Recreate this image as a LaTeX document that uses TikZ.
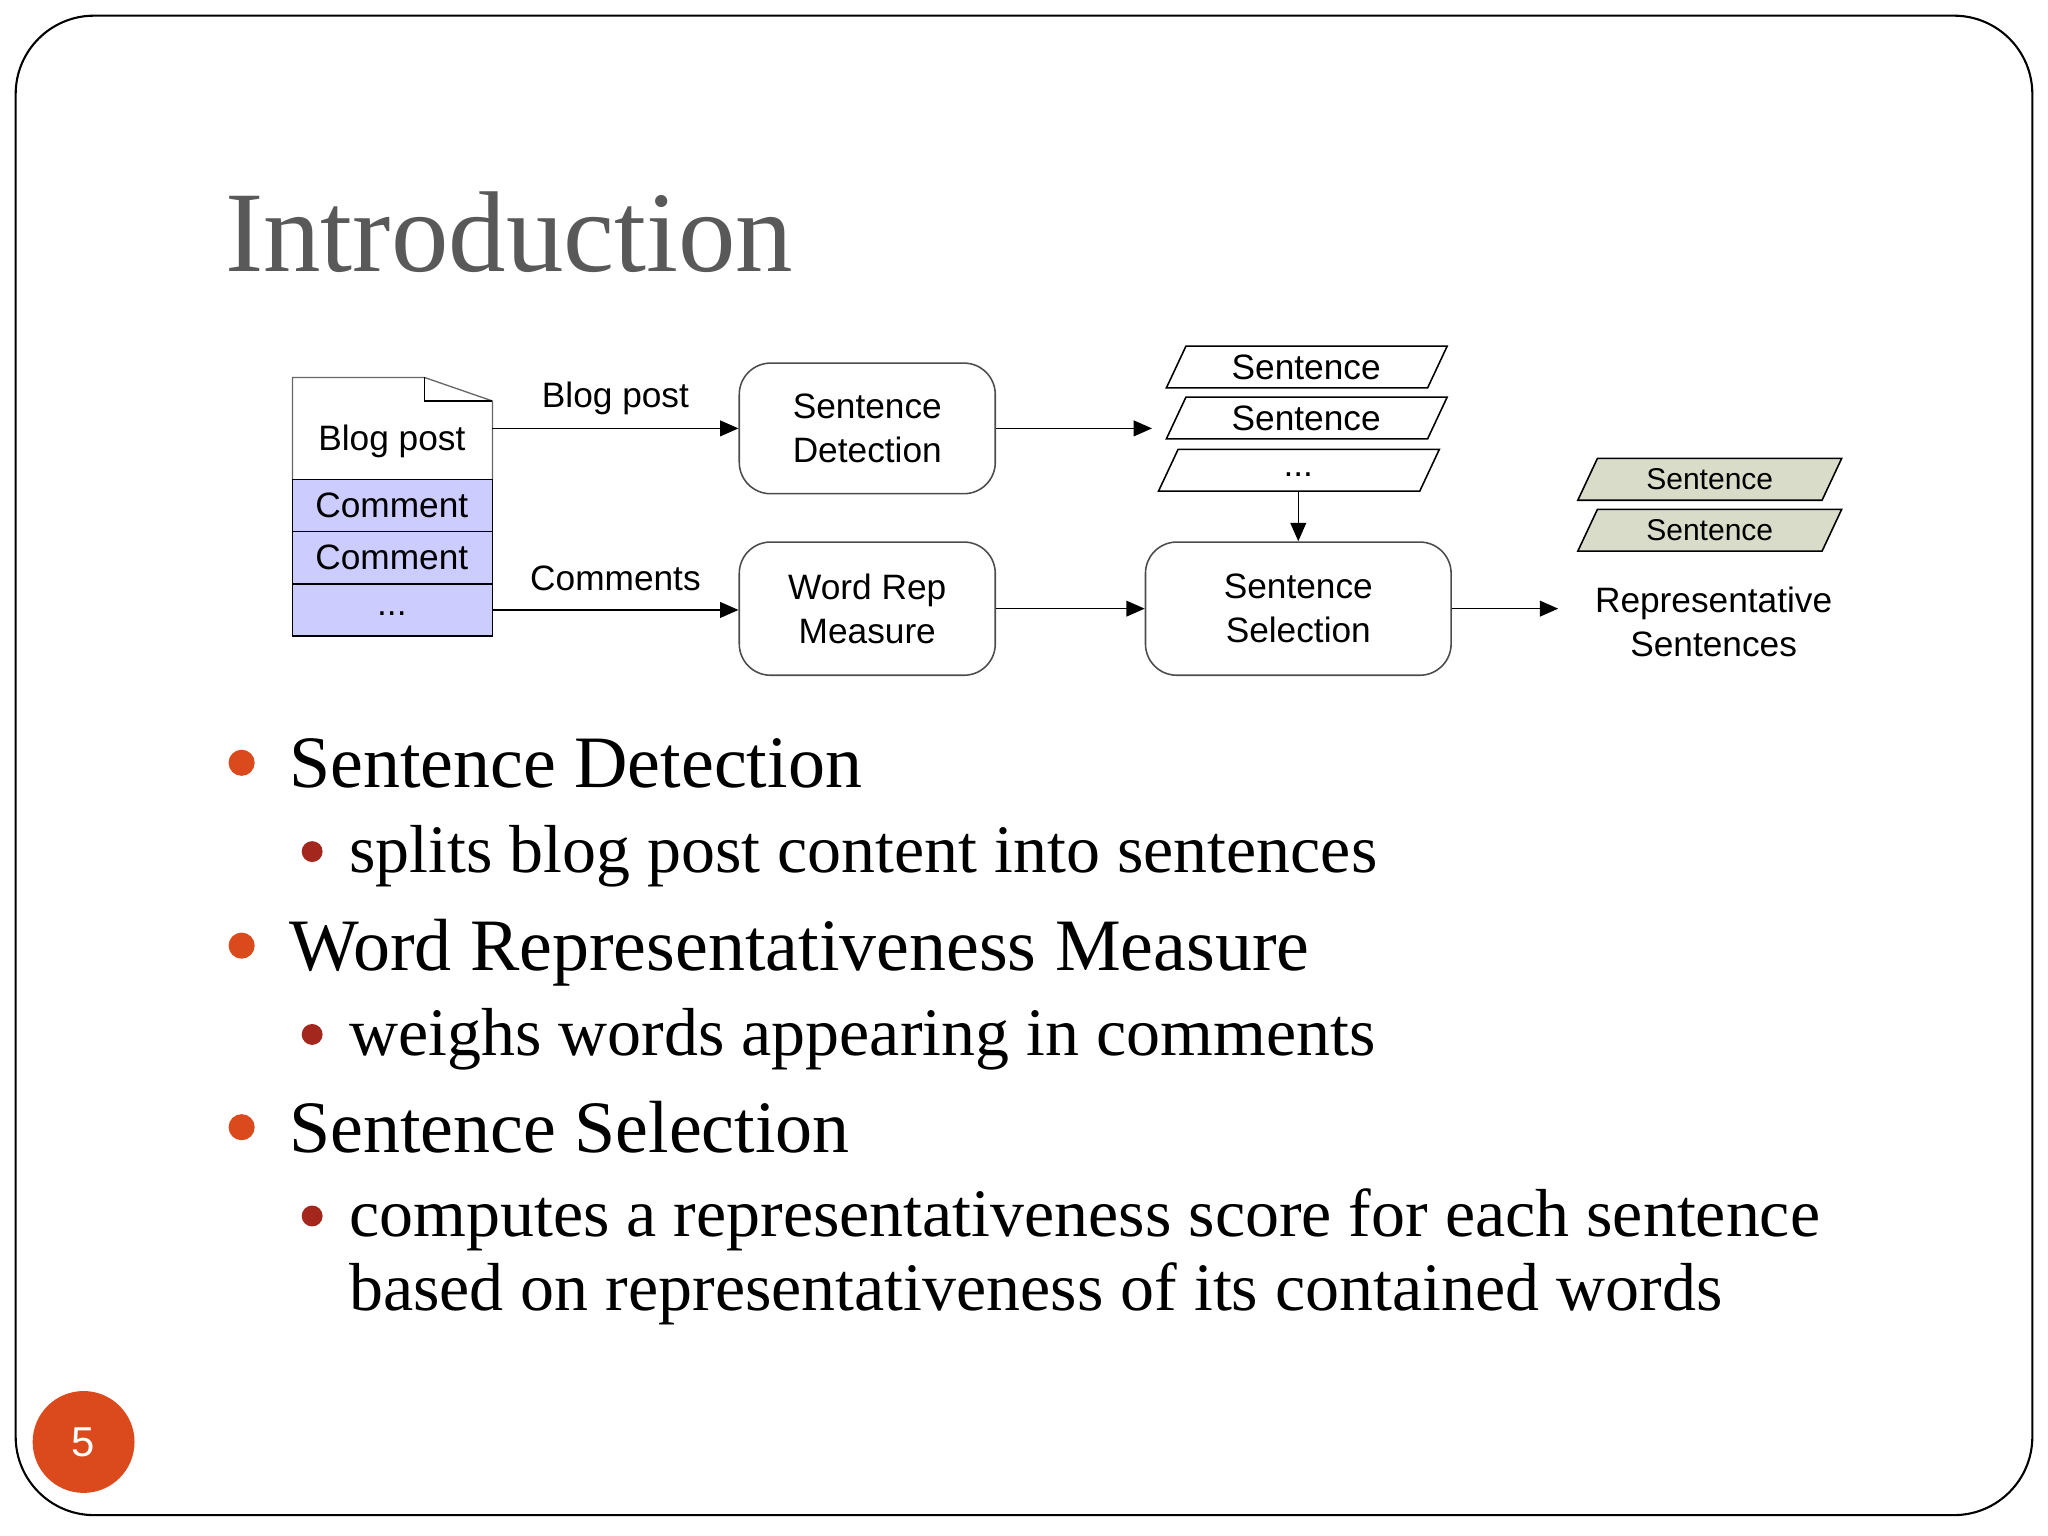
\documentclass[tikz,border=0pt]{standalone}
\usepackage{fontspec}
\setmainfont{Liberation Serif}
\newfontfamily\dia{Liberation Sans}
\usetikzlibrary{arrows.meta}
\definecolor{ttl}{HTML}{595959}
\definecolor{lav}{HTML}{CCCCFF}
\definecolor{grn}{HTML}{D9DCC8}
\definecolor{org}{HTML}{DA4A1C}
\definecolor{dred}{HTML}{A3271C}
\begin{document}
\begin{tikzpicture}[x=0.5pt,y=-0.5pt,
  box/.style={draw=black!70,rounded corners=12pt,line width=0.6pt},
  lbl/.style={font=\dia\fontsize{13.5}{15}\selectfont,align=center,inner sep=0},
  arr/.style={-{Triangle[length=7pt,width=6pt]},line width=0.6pt},
  bl/.style={anchor=base west,inner sep=0,font=\fontsize{28.3}{31}\selectfont},
  sbl/.style={anchor=base west,inner sep=0,font=\fontsize{26}{28}\selectfont}]
\useasboundingbox (0,0) rectangle (1568,1176);
\draw[line width=0.8pt,rounded corners=30pt] (12,12) rectangle (1556,1160);
\node[anchor=base west,inner sep=0,text=ttl,font=\fontsize{44}{46}\selectfont] (title) at (172,208) {Introduction};
% blog document
\draw[line width=0.5pt,draw=black!60,fill=white] (224,367) -- (224,289) -- (325,289) -- (377,307) -- (377,367);
\draw[line width=0.5pt] (325,289) -- (325,307) -- (377,307);
\node[lbl] (bp) at (300,338) {Blog post};
\foreach \y/\t/\n in {367/Comment/c1,407/Comment/c2,447/{\raisebox{-4pt}{...}}/c3}{
  \draw[fill=lav,line width=0.6pt] (224,\y) rectangle (377,\y+40);
  \node[lbl] (\n) at (300,\y+20) {\t};
}
\coordinate (bpo) at (377,328);
\coordinate (cmo) at (377,467);
\node[box,minimum width=98pt,minimum height=50pt,lbl,draw=black!70] (sd) at (664,328) {Sentence\\[2pt]Detection};
\node[box,minimum width=98pt,minimum height=51pt,lbl,draw=black!70] (wr) at (664,466) {Word Rep\\[2pt]Measure};
\node[box,minimum width=117pt,minimum height=51pt,lbl,draw=black!70] (ss) at (994,466) {Sentence\\[2pt]Selection};
\draw[arr] (bpo) -- node[lbl,above=5pt]{Blog post} (sd.west|-bpo);
\draw[arr] (cmo) -- node[lbl,above=7pt]{Comments} (wr.west|-cmo);
% sentences
\foreach \y/\x/\t/\n in {281/1000/Sentence/s1,320/1000/Sentence/s2,360/994/{\raisebox{-5pt}{...}}/s3}{
  \draw[line width=0.6pt] (\x-107,\y+16) -- (\x-107+15,\y-16) -- (\x+108,\y-16) -- (\x+108-15,\y+16) -- cycle;
  \node[lbl] (\n) at (\x,\y) {\t};
}
\coordinate (sin) at (882,328);
\draw[arr] (sd.east|-sin) -- (sin);
\draw[arr] (994,376) -- (ss.north);
\draw[arr] (wr.east) -- (ss.west);
\foreach \y/\n in {367/g1,406/g2}{
  \draw[fill=grn,line width=0.6pt] (1208,\y+16) -- (1223,\y-16) -- (1410,\y-16) -- (1395,\y+16) -- cycle;
  \node[lbl,font=\dia\fontsize{11.5}{13}\selectfont] (\n) at (1309,\y) {Sentence};
}
\node[lbl] (rep) at (1312,476) {Representative\\[2pt]Sentences};
\coordinate (rin) at (1193,466);
\draw[arr] (ss.east) -- (rin);
% bullets
\foreach \y/\t in {603/Sentence Detection,743/Word Representativeness Measure,882/Sentence Selection}{
  \fill[org] (185,\y-19) circle (5pt);
  \node[bl] at (221,\y) {\t};
}
\foreach \y/\t in {668/splits blog post content into sentences,808/weighs words appearing in comments,947/computes a representativeness score for each sentence}{
  \fill[dred] (239,\y-16) circle (4pt);
  \node[sbl] at (267,\y) {\t};
}
\node[sbl] at (267,1003) {based on representativeness of its contained words};
\fill[org] (64,1104) circle (39);
\node[text=white,font=\dia\fontsize{16}{18}\selectfont] (pg) at (64,1104) {5};
\end{tikzpicture}
\end{document}
